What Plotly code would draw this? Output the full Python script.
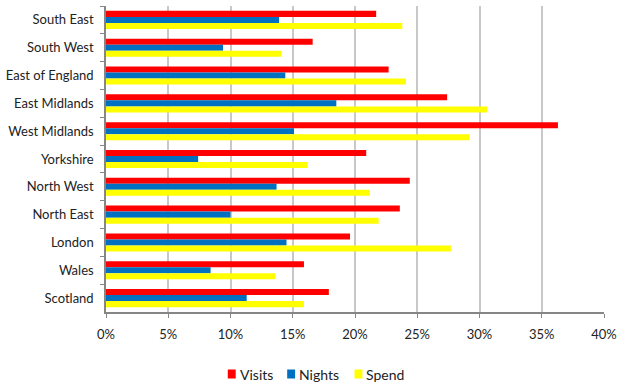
import plotly.graph_objects as go

regions = ["South East", "South West", "East of England", "East Midlands",
           "West Midlands", "Yorkshire", "North West", "North East",
           "London", "Wales", "Scotland"]
visits = [21.7, 16.6, 22.7, 27.4, 36.3, 20.9, 24.4, 23.6, 19.6, 15.9, 17.9]
nights = [13.9, 9.4, 14.4, 18.5, 15.1, 7.4, 13.7, 10.0, 14.5, 8.4, 11.3]
spend = [23.8, 14.1, 24.1, 30.6, 29.2, 16.2, 21.2, 21.9, 27.7, 13.6, 15.9]

x_ticks = [0, 5, 10, 15, 20, 25, 30, 35, 40]

series = [("Visits", visits, "#FF0000"),
          ("Nights", nights, "#0070C0"),
          ("Spend", spend, "#FFFF00")]

W, H = 623, 385
M = dict(l=104, r=16, t=6, b=73)
plot_w = W - M["l"] - M["r"]
plot_h = H - M["t"] - M["b"]

fig = go.Figure()
for name, vals, color in series:
    fig.add_trace(go.Bar(
        y=regions, x=[v / 100 for v in vals], name=name, orientation="h",
        marker=dict(color=color, line=dict(width=0)),
    ))

font_family = "Lato, 'Open Sans', sans-serif"
axis_grey = "#868686"

# Compact legend below the chart: swatch sits right next to its label.
legend_left_px = [227, 287, 355]   # swatch left edges, in page pixels
legend_mid_py = 374
for (name, _, color), lx in zip(series, legend_left_px):
    x0 = (lx - M["l"]) / plot_w
    x1 = (lx + 8 - M["l"]) / plot_w
    y0 = (H - M["b"] - (legend_mid_py + 4.5)) / plot_h
    y1 = (H - M["b"] - (legend_mid_py - 4.5)) / plot_h
    fig.add_shape(type="rect", xref="paper", yref="paper",
                  x0=x0, x1=x1, y0=y0, y1=y1,
                  fillcolor=color, line=dict(width=0))
    fig.add_annotation(text=name, xref="paper", yref="paper",
                       x=(lx + 10 - M["l"]) / plot_w,
                       y=(H - M["b"] - legend_mid_py) / plot_h,
                       xanchor="left", yanchor="middle", showarrow=False,
                       font=dict(size=14, family=font_family, color="#222222"))

fig.update_layout(
    width=W, height=H, margin=M,
    paper_bgcolor="white", plot_bgcolor="white",
    barmode="group", bargap=0.35, bargroupgap=0,
    font=dict(family=font_family, size=13, color="#222222"),
    showlegend=False,
)
fig.update_xaxes(
    range=[0, 0.40], tickvals=[t / 100 for t in x_ticks],
    ticktext=[f"{t}%" for t in x_ticks],
    showgrid=True, gridcolor="#C8C8C8", gridwidth=1.5,
    showline=True, linecolor=axis_grey, linewidth=1.5,
    ticks="outside", ticklen=4, tickcolor=axis_grey,
    zeroline=False, tickfont=dict(size=13), ticklabelstandoff=6,
)
fig.update_yaxes(
    autorange="reversed", type="category",
    showline=True, linecolor=axis_grey, linewidth=1.5,
    ticks="outside", ticklen=4, tickcolor=axis_grey, tickson="boundaries",
    showgrid=False, tickfont=dict(size=13), ticklabelstandoff=8,
)

fig.write_html("out.html")
